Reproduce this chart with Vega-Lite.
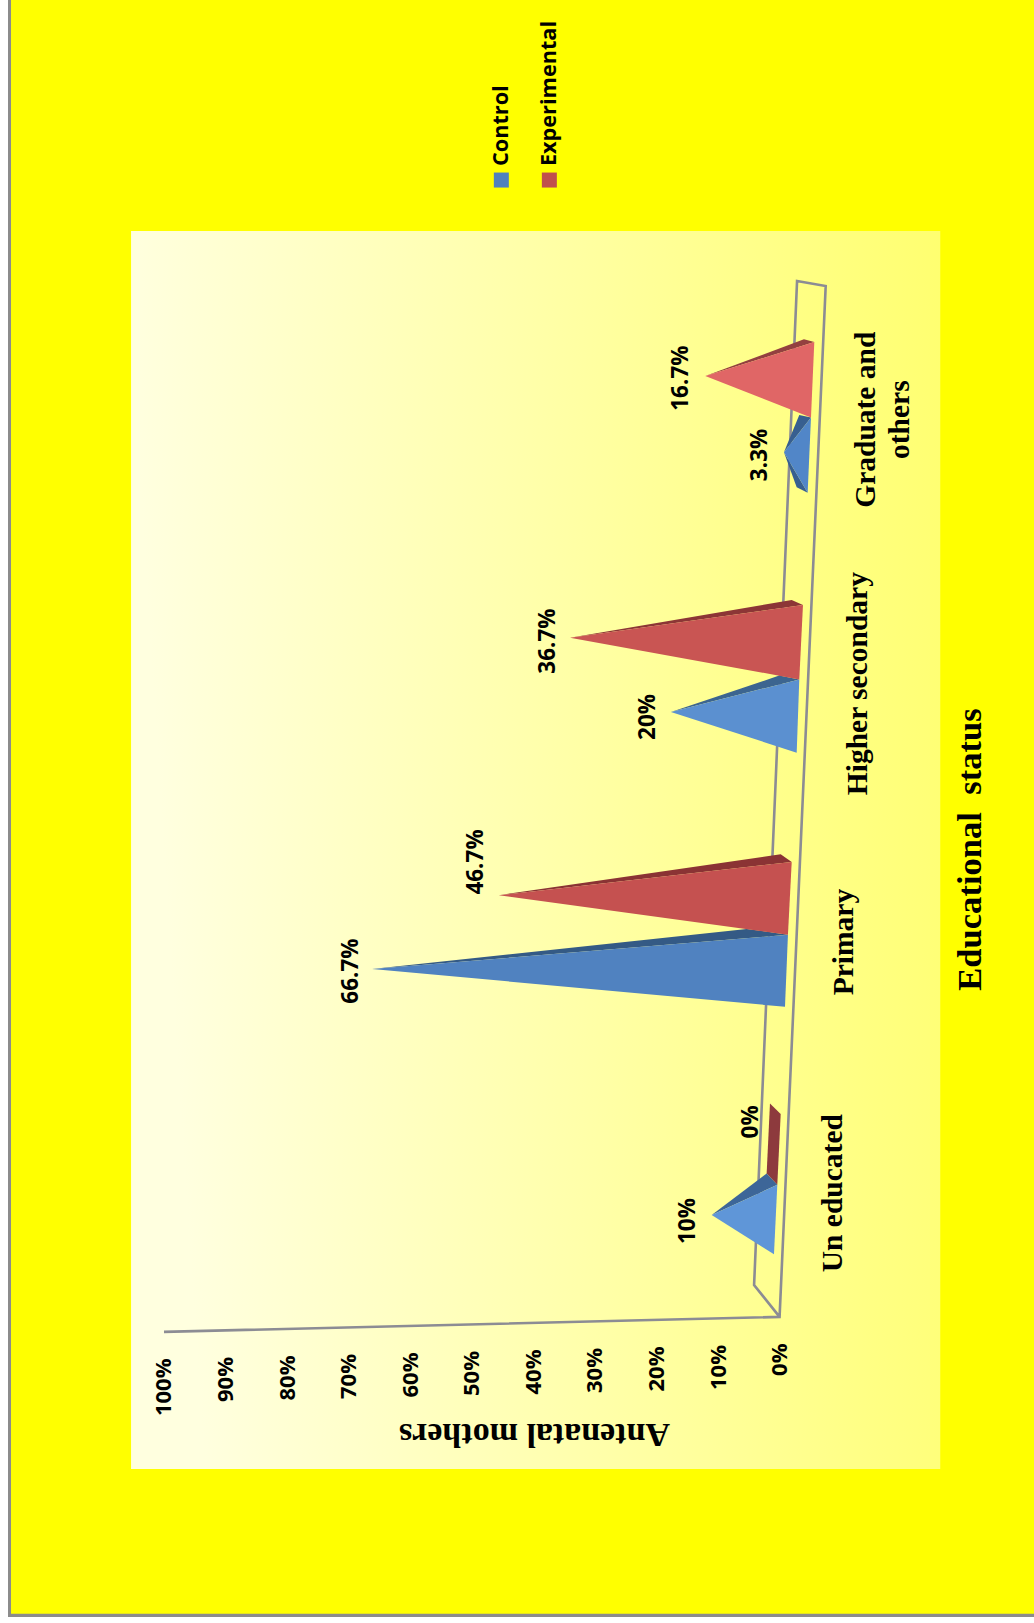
{
  "$schema": "https://vega.github.io/schema/vega-lite/v6.json",
  "width": 1034,
  "height": 1623,
  "padding": 0,
  "autosize": {"type": "none"},
  "background": "#ffffff",
  "view": {"stroke": null},
  "datasets": {
    "floorFrame": [
      {"step": 0, "pct": 100, "pos": 1.148, "tilt": 0},
      {"step": 1, "pct": 0, "pos": 1.207, "tilt": 0},
      {"step": 2, "pct": 0, "pos": 5.272, "tilt": -7.49},
      {"step": 3, "pct": 0, "pos": 5.292, "tilt": -2.84},
      {"step": 4, "pct": 0, "pos": 1.333, "tilt": 4.14},
      {"step": 5, "pct": 0, "pos": 1.207, "tilt": 0}
    ],
    "spikes": [
      {"piece": "Un educated Experimental side", "category": "Un educated", "series": "Experimental", "vertex": 0, "value": 0, "floor": 1.56, "pos": 2.049},
      {"piece": "Un educated Experimental side", "category": "Un educated", "series": "Experimental", "vertex": 1, "value": 0, "floor": -0.18, "pos": 2.007},
      {"piece": "Un educated Experimental side", "category": "Un educated", "series": "Experimental", "vertex": 2, "value": 0, "floor": 0.37, "pos": 1.728},
      {"piece": "Un educated Experimental side", "category": "Un educated", "series": "Experimental", "vertex": 3, "value": 0, "floor": 2.1, "pos": 1.773},
      {"piece": "Un educated Control side", "category": "Un educated", "series": "Control", "vertex": 0, "value": 10, "floor": 1.03, "pos": 1.609},
      {"piece": "Un educated Control side", "category": "Un educated", "series": "Control", "vertex": 1, "value": 0, "floor": 2.1, "pos": 1.773},
      {"piece": "Un educated Control side", "category": "Un educated", "series": "Control", "vertex": 2, "value": 0, "floor": 0.37, "pos": 1.728},
      {"piece": "Un educated Control front", "category": "Un educated", "series": "Control", "vertex": 0, "value": 10, "floor": 1.03, "pos": 1.609},
      {"piece": "Un educated Control front", "category": "Un educated", "series": "Control", "vertex": 1, "value": 0, "floor": 0.37, "pos": 1.728},
      {"piece": "Un educated Control front", "category": "Un educated", "series": "Control", "vertex": 2, "value": 0, "floor": 0.91, "pos": 1.454},

      {"piece": "Primary Control side", "category": "Primary", "series": "Control", "vertex": 0, "value": 66.7, "floor": -0.5, "pos": 2.579},
      {"piece": "Primary Control side", "category": "Primary", "series": "Control", "vertex": 1, "value": 0, "floor": 5.34, "pos": 2.737},
      {"piece": "Primary Control side", "category": "Primary", "series": "Control", "vertex": 2, "value": 0, "floor": -1.36, "pos": 2.714},
      {"piece": "Primary Control front", "category": "Primary", "series": "Control", "vertex": 0, "value": 66.7, "floor": -0.5, "pos": 2.579},
      {"piece": "Primary Control front", "category": "Primary", "series": "Control", "vertex": 1, "value": 0, "floor": -1.36, "pos": 2.714},
      {"piece": "Primary Control front", "category": "Primary", "series": "Control", "vertex": 2, "value": 0, "floor": -0.88, "pos": 2.43},
      {"piece": "Primary Experimental side", "category": "Primary", "series": "Experimental", "vertex": 0, "value": 46.7, "floor": -1.1, "pos": 2.87},
      {"piece": "Primary Experimental side", "category": "Primary", "series": "Experimental", "vertex": 1, "value": 0, "floor": -0.18, "pos": 3.031},
      {"piece": "Primary Experimental side", "category": "Primary", "series": "Experimental", "vertex": 2, "value": 0, "floor": -1.97, "pos": 3.001},
      {"piece": "Primary Experimental front", "category": "Primary", "series": "Experimental", "vertex": 0, "value": 46.7, "floor": -1.1, "pos": 2.87},
      {"piece": "Primary Experimental front", "category": "Primary", "series": "Experimental", "vertex": 1, "value": 0, "floor": -1.97, "pos": 3.001},
      {"piece": "Primary Experimental front", "category": "Primary", "series": "Experimental", "vertex": 2, "value": 0, "floor": -1.36, "pos": 2.714},

      {"piece": "Higher secondary Control side", "category": "Higher secondary", "series": "Control", "vertex": 0, "value": 20, "floor": -2.35, "pos": 3.592},
      {"piece": "Higher secondary Control side", "category": "Higher secondary", "series": "Control", "vertex": 1, "value": 0, "floor": 0.05, "pos": 3.736},
      {"piece": "Higher secondary Control side", "category": "Higher secondary", "series": "Control", "vertex": 2, "value": 0, "floor": -3.2, "pos": 3.721},
      {"piece": "Higher secondary Control front", "category": "Higher secondary", "series": "Control", "vertex": 0, "value": 20, "floor": -2.35, "pos": 3.592},
      {"piece": "Higher secondary Control front", "category": "Higher secondary", "series": "Control", "vertex": 1, "value": 0, "floor": -3.2, "pos": 3.721},
      {"piece": "Higher secondary Control front", "category": "Higher secondary", "series": "Control", "vertex": 2, "value": 0, "floor": -2.78, "pos": 3.432},
      {"piece": "Higher secondary Experimental side", "category": "Higher secondary", "series": "Experimental", "vertex": 0, "value": 36.7, "floor": -2.65, "pos": 3.885},
      {"piece": "Higher secondary Experimental side", "category": "Higher secondary", "series": "Experimental", "vertex": 1, "value": 0, "floor": -1.97, "pos": 4.034},
      {"piece": "Higher secondary Experimental side", "category": "Higher secondary", "series": "Experimental", "vertex": 2, "value": 0, "floor": -3.8, "pos": 4.014},
      {"piece": "Higher secondary Experimental front", "category": "Higher secondary", "series": "Experimental", "vertex": 0, "value": 36.7, "floor": -2.65, "pos": 3.885},
      {"piece": "Higher secondary Experimental front", "category": "Higher secondary", "series": "Experimental", "vertex": 1, "value": 0, "floor": -3.8, "pos": 4.014},
      {"piece": "Higher secondary Experimental front", "category": "Higher secondary", "series": "Experimental", "vertex": 2, "value": 0, "floor": -3.2, "pos": 3.721},

      {"piece": "Graduate Control side", "category": "Graduate and others", "series": "Control", "vertex": 0, "value": 3.3, "floor": -4.01, "pos": 4.617},
      {"piece": "Graduate Control side", "category": "Graduate and others", "series": "Control", "vertex": 1, "value": 0, "floor": -3.2, "pos": 4.764},
      {"piece": "Graduate Control side", "category": "Graduate and others", "series": "Control", "vertex": 2, "value": 0, "floor": -5.1, "pos": 4.754},
      {"piece": "Graduate Control underside", "category": "Graduate and others", "series": "Control", "vertex": 0, "value": 3.3, "floor": -4.01, "pos": 4.617},
      {"piece": "Graduate Control underside", "category": "Graduate and others", "series": "Control", "vertex": 1, "value": 0, "floor": -2.78, "pos": 4.479},
      {"piece": "Graduate Control underside", "category": "Graduate and others", "series": "Control", "vertex": 2, "value": 0, "floor": -4.56, "pos": 4.457},
      {"piece": "Graduate Control front", "category": "Graduate and others", "series": "Control", "vertex": 0, "value": 3.3, "floor": -4.01, "pos": 4.617},
      {"piece": "Graduate Control front", "category": "Graduate and others", "series": "Control", "vertex": 1, "value": 0, "floor": -5.1, "pos": 4.754},
      {"piece": "Graduate Control front", "category": "Graduate and others", "series": "Control", "vertex": 2, "value": 0, "floor": -4.56, "pos": 4.457},
      {"piece": "Graduate Experimental side", "category": "Graduate and others", "series": "Experimental", "vertex": 0, "value": 16.7, "floor": -4.63, "pos": 4.917},
      {"piece": "Graduate Experimental side", "category": "Graduate and others", "series": "Experimental", "vertex": 1, "value": 0, "floor": -3.96, "pos": 5.062},
      {"piece": "Graduate Experimental side", "category": "Graduate and others", "series": "Experimental", "vertex": 2, "value": 0, "floor": -5.64, "pos": 5.051},
      {"piece": "Graduate Experimental front", "category": "Graduate and others", "series": "Experimental", "vertex": 0, "value": 16.7, "floor": -4.63, "pos": 4.917},
      {"piece": "Graduate Experimental front", "category": "Graduate and others", "series": "Experimental", "vertex": 1, "value": 0, "floor": -5.64, "pos": 5.051},
      {"piece": "Graduate Experimental front", "category": "Graduate and others", "series": "Experimental", "vertex": 2, "value": 0, "floor": -5.1, "pos": 4.754}
    ],
    "valueLabels": [
      {"category": "Un educated", "series": "Control", "value": 10, "floor": 1.03, "pos": 1.585, "label": "10%"},
      {"category": "Un educated", "series": "Experimental", "value": 0, "floor": 0.75, "pos": 1.976, "label": "0%"},
      {"category": "Primary", "series": "Control", "value": 66.7, "floor": -0.98, "pos": 2.571, "label": "66.7%"},
      {"category": "Primary", "series": "Experimental", "value": 46.7, "floor": -1.28, "pos": 3.001, "label": "46.7%"},
      {"category": "Higher secondary", "series": "Control", "value": 20, "floor": -2.47, "pos": 3.573, "label": "20%"},
      {"category": "Higher secondary", "series": "Experimental", "value": 36.7, "floor": -2.93, "pos": 3.872, "label": "36.7%"},
      {"category": "Graduate and others", "series": "Control", "value": 3.3, "floor": -4.01, "pos": 4.606, "label": "3.3%"},
      {"category": "Graduate and others", "series": "Experimental", "value": 16.7, "floor": -4.63, "pos": 4.909, "label": "16.7%"}
    ],
    "categoryLabels": [
      {"category": "Un educated", "across": -8.6, "pos": 1.695},
      {"category": "Primary", "across": -10.5, "pos": 2.685},
      {"category": "Higher secondary", "across": -12.8, "pos": 3.704},
      {"category": "Graduate and|others", "across": -14.04, "pos": 4.745}
    ],
    "legendEntries": [
      {"series": "Control", "across": 45.2, "pos": 5.69, "textPos": 5.745},
      {"series": "Experimental", "across": 37.4, "pos": 5.69, "textPos": 5.745}
    ],
    "stage": [{"part": "backdrop"}]
  },
  "layer": [
    {
      "description": "Slide frame and yellow backdrop",
      "data": {"name": "stage"},
      "mark": {"type": "rect", "color": "#8c8c8c"},
      "encoding": {
        "x": {
          "datum": 125.34,
          "type": "quantitative",
          "scale": {"domain": [126.64, -41.33], "nice": false, "zero": false},
          "axis": {
            "orient": "bottom",
            "offset": -280,
            "zindex": 1,
            "domain": false,
            "ticks": false,
            "grid": false,
            "values": [0, 10, 20, 30, 40, 50, 60, 70, 80, 90, 100],
            "labelExpr": "datum.value + '%'",
            "labelAngle": 270,
            "labelAlign": "right",
            "labelBaseline": "middle",
            "labelFont": "Open Sans",
            "labelFontWeight": "bold",
            "labelFontSize": 22,
            "labelColor": "#000000",
            "labelPadding": {"expr": "datum.value * 0.15"},
            "labelOverlap": false,
            "labelFlush": false,
            "title": "Antenatal mothers",
            "titleFont": "Liberation Serif",
            "titleFontWeight": "bold",
            "titleFontSize": 34,
            "titleColor": "#000000",
            "titleAngle": 180,
            "titleAlign": "center",
            "titleBaseline": "middle",
            "titleX": 534,
            "titleY": 90
          }
        },
        "x2": {"datum": -41.33},
        "y": {"datum": 0.024, "type": "quantitative", "scale": {"domain": [0, 6.4], "nice": false, "zero": false}, "axis": null},
        "y2": {"datum": 6.4}
      }
    },
    {
      "data": {"name": "stage"},
      "mark": {"type": "rect", "color": "#ffff00"},
      "encoding": {
        "x": {"datum": 124.85, "type": "quantitative"},
        "x2": {"datum": -41.33},
        "y": {"datum": 0.036, "type": "quantitative"},
        "y2": {"datum": 6.4}
      }
    },
    {
      "description": "Chart panel with its pale-to-yellow wash",
      "data": {"name": "stage"},
      "mark": {
        "type": "rect",
        "fill": {
          "gradient": "linear", "x1": 0, "y1": 0.1, "x2": 1, "y2": 0,
          "stops": [
            {"offset": 0, "color": "#ffffdf"},
            {"offset": 0.5, "color": "#ffffa8"},
            {"offset": 1, "color": "#ffff70"}
          ]
        }
      },
      "encoding": {
        "x": {"datum": 105.35, "type": "quantitative"},
        "x2": {"datum": -26.1},
        "y": {"datum": 0.607, "type": "quantitative"},
        "y2": {"datum": 5.489}
      }
    },
    {
      "description": "Back wall and floor outline of the 3-D box; the depth skew shifts each corner along the value scale",
      "data": {"name": "floorFrame"},
      "mark": {"type": "line", "color": "#8c8c94", "strokeWidth": 2.6, "strokeJoin": "miter", "xOffset": {"expr": "datum.tilt * -6.156"}},
      "encoding": {
        "x": {"field": "pct", "type": "quantitative"},
        "y": {"field": "pos", "type": "quantitative"},
        "order": {"field": "step"}
      }
    },
    {
      "description": "Cone spikes, each face one filled polygon; tips sit at the stated value",
      "data": {"name": "spikes"},
      "mark": {"type": "line", "strokeWidth": 0, "xOffset": {"expr": "datum.floor * -6.156"}},
      "encoding": {
        "x": {"field": "value", "type": "quantitative"},
        "y": {"field": "pos", "type": "quantitative"},
        "order": {"field": "vertex"},
        "fill": {
          "field": "piece",
          "type": "nominal",
          "legend": null,
          "sort": null,
          "scale": {
            "domain": [
              "Un educated Experimental side", "Un educated Control side", "Un educated Control front",
              "Primary Control side", "Primary Control front", "Primary Experimental side", "Primary Experimental front",
              "Higher secondary Control side", "Higher secondary Control front", "Higher secondary Experimental side", "Higher secondary Experimental front",
              "Graduate Control side", "Graduate Control underside", "Graduate Control front", "Graduate Experimental side", "Graduate Experimental front"
            ],
            "range": [
              "#8d3a3d", "#3d6698", "#5f96d8",
              "#345a85", "#5082c0", "#8a3334", "#c55150",
              "#3c6590", "#5b90d0", "#8c3636", "#c95553",
              "#375f90", "#375f90", "#5186c8", "#934040", "#e06666"
            ]
          }
        }
      }
    },
    {
      "data": {"name": "valueLabels"},
      "mark": {"type": "text", "angle": 270, "align": "center", "baseline": "middle", "dy": -24, "font": "Open Sans", "fontWeight": "bold", "fontSize": 22.5, "color": "#000000", "xOffset": {"expr": "datum.floor * -6.156"}},
      "encoding": {
        "x": {"field": "value", "type": "quantitative"},
        "y": {"field": "pos", "type": "quantitative"},
        "text": {"field": "label"}
      }
    },
    {
      "data": {"name": "categoryLabels"},
      "mark": {"type": "text", "angle": 270, "align": "center", "baseline": "middle", "lineBreak": "|", "lineHeight": 34, "font": "Liberation Serif", "fontWeight": "bold", "fontSize": 29.5, "color": "#000000"},
      "encoding": {
        "x": {"field": "across", "type": "quantitative"},
        "y": {"field": "pos", "type": "quantitative"},
        "text": {"field": "category"}
      }
    },
    {
      "description": "Horizontal-axis caption",
      "data": {"name": "stage"},
      "mark": {"type": "text", "angle": 270, "align": "center", "baseline": "middle", "font": "Liberation Serif", "fontWeight": "bold", "fontSize": 34.6, "color": "#000000", "text": "Educational\u00a0\u00a0status"},
      "encoding": {
        "x": {"datum": -31.1, "type": "quantitative"},
        "y": {"datum": 3.05, "type": "quantitative"}
      }
    },
    {
      "description": "Series key, drawn sideways with the chart",
      "data": {"name": "legendEntries"},
      "mark": {"type": "square", "size": 225, "opacity": 1},
      "encoding": {
        "x": {"field": "across", "type": "quantitative"},
        "y": {"field": "pos", "type": "quantitative"},
        "color": {"field": "series", "type": "nominal", "legend": null, "scale": {"domain": ["Control", "Experimental"], "range": ["#4f81bd", "#c0504d"]}}
      }
    },
    {
      "data": {"name": "legendEntries"},
      "mark": {"type": "text", "angle": 270, "align": "left", "baseline": "middle", "font": "Open Sans", "fontWeight": "bold", "fontSize": 21.7, "color": "#000000"},
      "encoding": {
        "x": {"field": "across", "type": "quantitative"},
        "y": {"field": "textPos", "type": "quantitative"},
        "text": {"field": "series"}
      }
    }
  ]
}
